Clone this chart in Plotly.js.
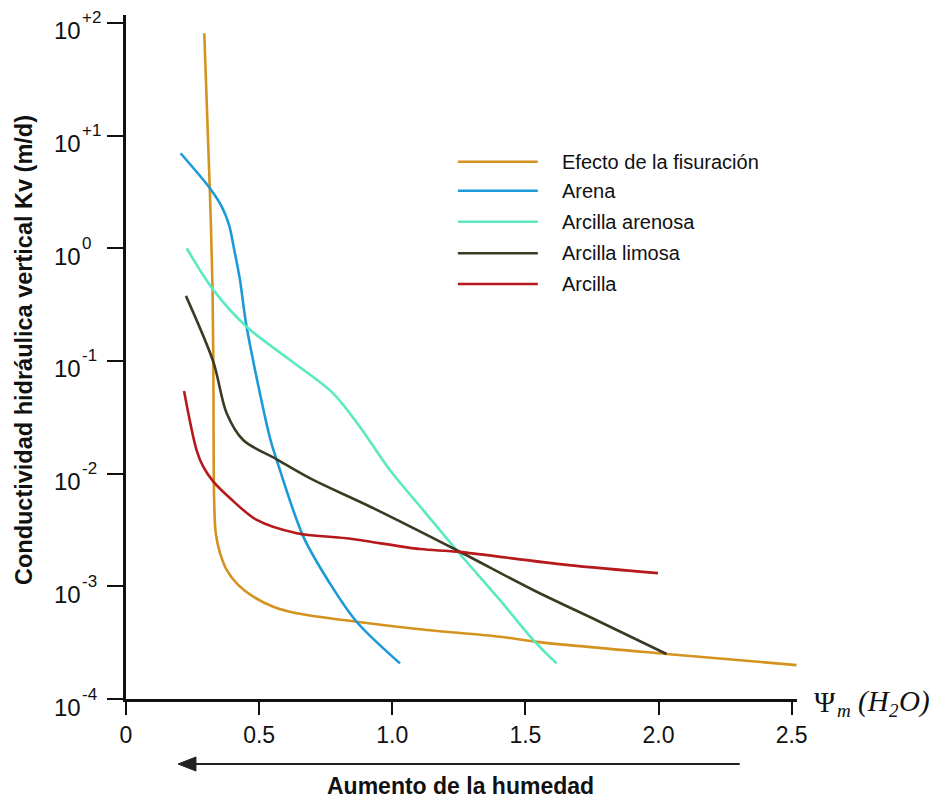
<!DOCTYPE html>
<html>
<head>
<meta charset="utf-8">
<script src="https://cdn.plot.ly/plotly-3.0.1.min.js"></script>
<style>html,body{margin:0;padding:0;background:#fff;}#chart{width:941px;height:802px;}</style>
</head>
<body>
<div id="chart"></div>
<script>
// ---- data ----
const seriesNames = ["Efecto de la fisuración", "Arena", "Arcilla arenosa", "Arcilla limosa", "Arcilla"];

const fisuracionX = [0.294, 0.315, 0.325, 0.328, 0.331, 0.337, 0.353, 0.378, 0.421, 0.478, 0.553, 0.641, 0.866, 1.104, 1.404, 1.535, 2.030, 2.518];
const fisuracionY = [80.9, 3.18, 0.445, 0.0953, 0.00583, 0.00297, 0.00198, 0.00140, 0.00103, 0.000809, 0.000659, 0.000577, 0.000485, 0.000416, 0.000357, 0.000323, 0.000251, 0.000200];

const arenaX = [0.205, 0.315, 0.360, 0.387, 0.405, 0.428, 0.453, 0.541, 0.566, 0.666, 0.766, 0.866, 1.029];
const arenaY = [6.97, 3.41, 2.33, 1.61, 1.01, 0.524, 0.201, 0.0206, 0.0132, 0.00276, 0.00106, 0.000485, 0.000207];

const arenosaX = [0.228, 0.328, 0.453, 0.616, 0.778, 0.878, 0.991, 1.116, 1.241, 1.404, 1.535, 1.617];
const arenosaY = [1.0, 0.427, 0.201, 0.102, 0.0516, 0.0261, 0.01076, 0.00475, 0.0021, 0.000757, 0.000323, 0.000207];

const limosaX = [0.225, 0.328, 0.378, 0.440, 0.566, 0.703, 0.904, 1.241, 1.529, 1.779, 2.030];
const limosaY = [0.378, 0.098, 0.0344, 0.0199, 0.0134, 0.00879, 0.00527, 0.0021, 0.000927, 0.000485, 0.000251];

const arcillaX = [0.218, 0.265, 0.290, 0.328, 0.390, 0.491, 0.641, 0.828, 1.104, 1.241, 1.654, 1.998];
const arcillaY = [0.0542, 0.0162, 0.01153, 0.00849, 0.00608, 0.00388, 0.00296, 0.00267, 0.00214, 0.00203, 0.00155, 0.00131];

const xTickVals = [0, 0.5, 1, 1.5, 2, 2.5];
const xTickText = ["0", "0.5", "1.0", "1.5", "2.0", "2.5"];
const yTickVals = [1e-4, 1e-3, 1e-2, 1e-1, 1, 10, 100];
const yTickExp = ["-4", "-3", "-2", "-1", "0", "+1", "+2"];

// ---- styling ----
const colors = ["#D4921F", "#1C9AD8", "#5BE9C2", "#3B3B24", "#B5191B"];
const sans = "Liberation Sans Narrow, Arial Narrow, Liberation Sans, sans-serif";
const serif = "Liberation Serif, DejaVu Serif, serif";
const xs = [fisuracionX, arenaX, arenosaX, limosaX, arcillaX];
const ys = [fisuracionY, arenaY, arenosaY, limosaY, arcillaY];

const traces = seriesNames.map((n, i) => ({
  x: xs[i], y: ys[i], name: n, type: "scatter", mode: "lines",
  line: {color: colors[i], width: 2.6, shape: "spline", smoothing: 0.9},
  showlegend: false, hoverinfo: "skip"
}));

// plot-area helpers (pixel -> paper)
const PL = 126, PW = 671.3, PB = 699, PH = 684;
const px = p => (p - PL) / PW;
const py = p => (PB - p) / PH;

// manual legend (long line samples)
const legY = [161.7, 190.7, 221.7, 253.3, 284];
const shapes = seriesNames.map((n, i) => ({
  type: "line", xref: "paper", yref: "paper",
  x0: px(458), x1: px(538), y0: py(legY[i]), y1: py(legY[i]),
  line: {color: colors[i], width: 2.6}
}));
// arrow "Aumento de la humedad"
shapes.push({type: "line", xref: "paper", yref: "paper", x0: px(192), x1: px(740), y0: py(764), y1: py(764),
  line: {color: "#222", width: 2}});
shapes.push({type: "path", xref: "paper", yref: "paper",
  path: `M ${px(178)} ${py(764)} L ${px(196)} ${py(757)} L ${px(196)} ${py(771)} Z`,
  fillcolor: "#222", line: {color: "#222", width: 1}});

const annotations = seriesNames.map((n, i) => ({
  text: n, xref: "paper", yref: "paper", x: px(560), y: py(legY[i]),
  xanchor: "left", yanchor: "middle", showarrow: false,
  font: {family: sans, size: 20, color: "#111"}
}));

// y tick labels: "10" with raised exponent
yTickVals.forEach((v, i) => {
  annotations.push({text: "10", xref: "paper", yref: "y", x: px(83), y: Math.log10(v),
    xanchor: "right", yanchor: "middle", yshift: -8, showarrow: false,
    font: {family: sans, size: 24, color: "#111"}});
  annotations.push({text: yTickExp[i], xref: "paper", yref: "y", x: px(80), y: Math.log10(v),
    xanchor: "left", yanchor: "middle", yshift: 5, showarrow: false,
    font: {family: sans, size: 17, color: "#111"}});
});

annotations.push({
  text: "Conductividad hidráulica vertical Kv (m/d)", xref: "paper", yref: "paper",
  x: px(24), y: py(350), xanchor: "center", yanchor: "middle", textangle: -90, showarrow: false,
  font: {family: sans, size: 23.5, color: "#111", weight: 700}
});
annotations.push({
  text: "Aumento de la humedad", xref: "paper", yref: "paper",
  x: px(461), y: py(786), xanchor: "center", yanchor: "middle", showarrow: false,
  font: {family: sans, size: 23, color: "#111", weight: 700}
});
// Ψm (H2O) label, built from pieces
const psiParts = [
  {t: "Ψ", x: 812, y: 702, s: 29, st: "normal"},
  {t: "m", x: 835, y: 710, s: 19, st: "italic"},
  {t: "(H", x: 856, y: 702, s: 29, st: "italic"},
  {t: "2", x: 887, y: 710, s: 19, st: "italic"},
  {t: "O)", x: 897, y: 702, s: 29, st: "italic"}
];
psiParts.forEach(p => annotations.push({
  text: p.t, xref: "paper", yref: "paper", x: px(p.x), y: py(p.y),
  xanchor: "left", yanchor: "middle", showarrow: false,
  font: {family: serif, size: p.s, style: p.st, color: "#111"}
}));

const layout = {
  width: 941, height: 802,
  margin: {l: 126, r: 144, t: 15, b: 103},
  paper_bgcolor: "#fff", plot_bgcolor: "#fff",
  showlegend: false,
  xaxis: {
    range: [0, 2.52], showgrid: false, zeroline: false,
    showline: true, linecolor: "#111", linewidth: 3,
    ticks: "outside", ticklen: 13, tickwidth: 1.5, tickcolor: "#111",
    tickvals: xTickVals, ticktext: xTickText,
    tickfont: {family: sans, size: 23, color: "#111"}
  },
  yaxis: {
    type: "log", range: [-4, 2.07], showgrid: false, zeroline: false,
    showline: true, linecolor: "#111", linewidth: 3,
    ticks: "outside", ticklen: 16, tickwidth: 1.5, tickcolor: "#111",
    tickvals: yTickVals, showticklabels: false
  },
  shapes: shapes,
  annotations: annotations
};

Plotly.newPlot("chart", traces, layout, {displayModeBar: false});
</script>
</body>
</html>
